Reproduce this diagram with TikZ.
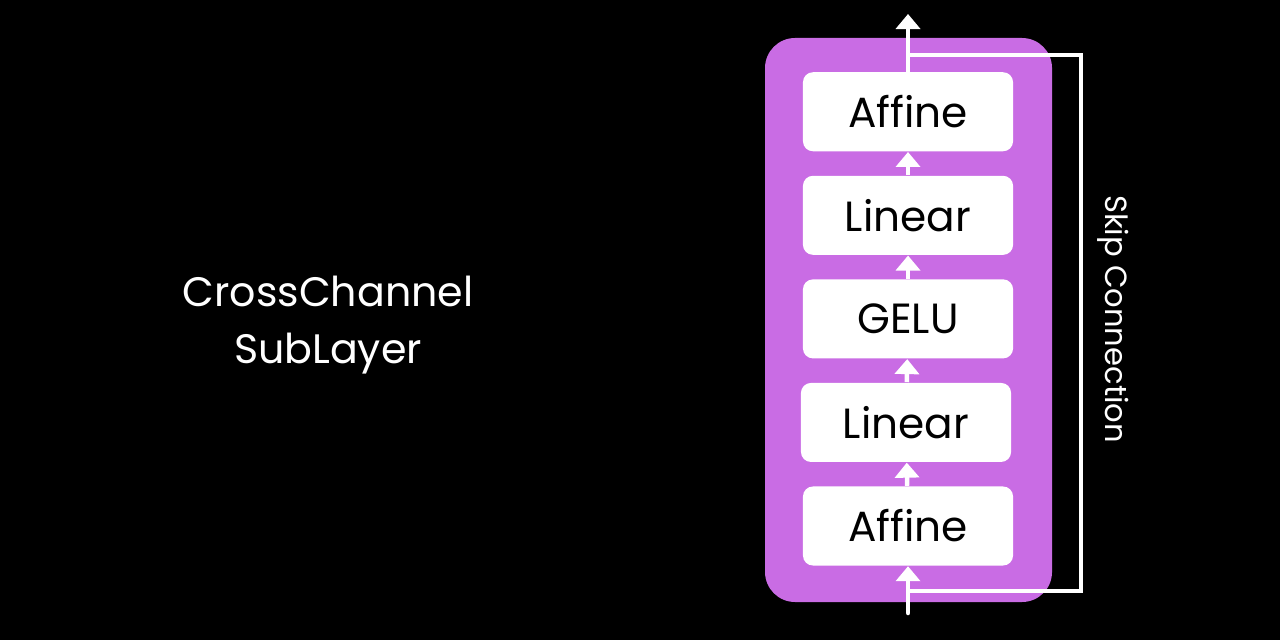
\documentclass[tikz,border=0pt]{standalone}
\usepackage{fontspec}
\setmainfont{Poppins}
\usepackage{xcolor}
\usepackage{tikz}
\usetikzlibrary{arrows.meta,positioning}
\definecolor{layerpurple}{HTML}{C96CE4}
\tikzset{
	x=0.01cm, y=-0.01cm,
	node distance=1.035cm,
	on grid,
	>={Triangle[width=0.24cm,length=0.15cm]}, % broad filled heads
	flow/.style={->, white, line width=0.045cm},
	skip/.style={white, line width=0.035cm},
	op/.style={fill=white, rounded corners=0.1cm, minimum width=2.1cm, minimum height=0.79cm,
		font=\fontsize{12}{14}\selectfont, text=black},
}
\begin{document}
\begin{tikzpicture}
      \fill[black] (0,0) rectangle (1280,640);
      \useasboundingbox (0,0) rectangle (1280,640);

      \fill[layerpurple, rounded corners=0.3cm] (765,38) rectangle (1052,602);

      \node[op] at (908,526) (affin) {Affine};
      \node[op, above=of affin, xshift=-0.02cm] (lin1) {Linear};
      \node[op, above=of lin1, xshift=0.02cm] (gelu) {GELU};
      \node[op, above=of gelu] (lin2) {Linear};
      \node[op, above=of lin2] (affout) {Affine};

      \coordinate (in) at (908,613);
      \coordinate (out) at (908,14);
      \coordinate (split) at (908,591);
      \coordinate (join) at (908,55);

      \draw[skip] (split) -| (1081,55) -- (join);

      \draw[flow, line cap=round] (in) -- (affin);
      \draw[flow] (affin) -- (lin1);
      \draw[flow] (lin1) -- (gelu);
      \draw[flow] (gelu) -- (lin2);
      \draw[flow] (lin2) -- (affout);
      \draw[flow] (affout) -- (out);

      \node[white, rotate=-90, font=\fontsize{8.7}{10}\selectfont] at (1113,319) (skiplbl) {Skip Connection};
      \node[white, align=center, font=\fontsize{11.7}{16.2}\selectfont] at (328,325) (title) {CrossChannel\\SubLayer};
    \end{tikzpicture}
\end{document}
